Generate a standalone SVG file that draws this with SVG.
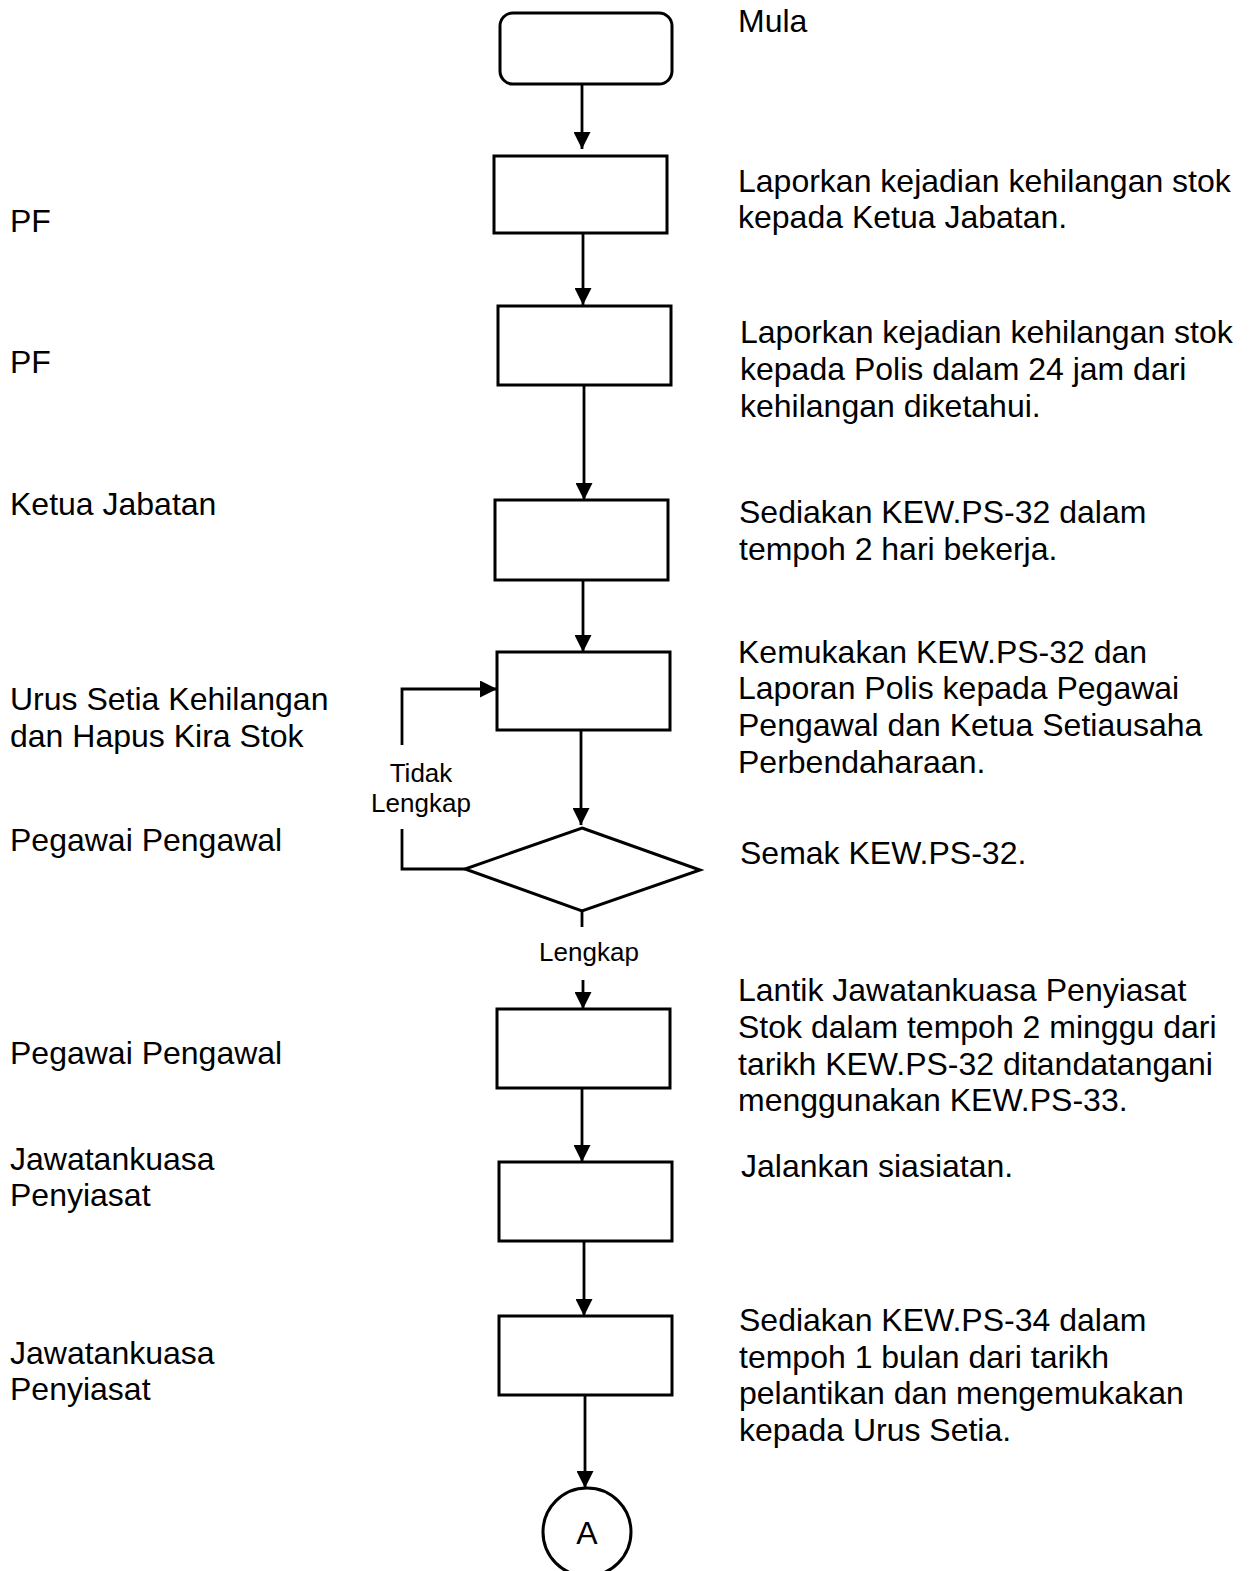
<svg xmlns="http://www.w3.org/2000/svg" width="1255" height="1571" viewBox="0 0 1255 1571">
  <style>
    .box { fill: #ffffff; stroke: #000000; stroke-width: 3; }
    .wire { fill: none; stroke: #000000; stroke-width: 2.8; }
    .txt { font-family: "Liberation Sans", Arial, sans-serif; font-size: 32px; fill: #000000; }
    .small { font-family: "Liberation Sans", Arial, sans-serif; font-size: 26px; fill: #000000; }
  </style>
  <defs>
    <marker id="arrow" markerUnits="userSpaceOnUse" markerWidth="17" markerHeight="17" viewBox="0 0 17 17" refX="17" refY="8.5" orient="auto">
      <path d="M0,0 L17,8.5 L0,17 z" fill="#000000"/>
    </marker>
  </defs>

  <rect width="1255" height="1571" fill="#ffffff"/>

  <!-- role labels, left column -->
  <g id="roles" class="txt">
    <text x="10" y="232">PF</text>
    <text x="10" y="373">PF</text>
    <text x="10" y="515">Ketua Jabatan</text>
    <text x="10" y="710">Urus Setia Kehilangan</text>
    <text x="10" y="747">dan Hapus Kira Stok</text>
    <text x="10" y="851">Pegawai Pengawal</text>
    <text x="10" y="1064">Pegawai Pengawal</text>
    <text x="10" y="1170">Jawatankuasa</text>
    <text x="10" y="1206">Penyiasat</text>
    <text x="10" y="1364">Jawatankuasa</text>
    <text x="10" y="1400">Penyiasat</text>
  </g>

  <!-- step descriptions, right column -->
  <g id="steps" class="txt">
    <text x="738" y="32">Mula</text>
    <text x="738" y="192">Laporkan kejadian kehilangan stok</text>
    <text x="738" y="228">kepada Ketua Jabatan.</text>
    <text x="740" y="343">Laporkan kejadian kehilangan stok</text>
    <text x="740" y="380">kepada Polis dalam 24 jam dari</text>
    <text x="740" y="417">kehilangan diketahui.</text>
    <text x="739" y="523">Sediakan KEW.PS-32 dalam</text>
    <text x="739" y="560">tempoh 2 hari bekerja.</text>
    <text x="738" y="663">Kemukakan KEW.PS-32 dan</text>
    <text x="738" y="699">Laporan Polis kepada Pegawai</text>
    <text x="738" y="736">Pengawal dan Ketua Setiausaha</text>
    <text x="738" y="773">Perbendaharaan.</text>
    <text x="740" y="864">Semak KEW.PS-32.</text>
    <text x="738" y="1001">Lantik Jawatankuasa Penyiasat</text>
    <text x="738" y="1038">Stok dalam tempoh 2 minggu dari</text>
    <text x="738" y="1075">tarikh KEW.PS-32 ditandatangani</text>
    <text x="738" y="1111">menggunakan KEW.PS-33.</text>
    <text x="741" y="1177">Jalankan siasiatan.</text>
    <text x="739" y="1331">Sediakan KEW.PS-34 dalam</text>
    <text x="739" y="1368">tempoh 1 bulan dari tarikh</text>
    <text x="739" y="1404">pelantikan dan mengemukakan</text>
    <text x="739" y="1441">kepada Urus Setia.</text>
  </g>

  <!-- flow nodes -->
  <g id="start"><rect class="box" x="500" y="13" width="172" height="71" rx="13" ry="13"/></g>
  <g id="step1"><rect class="box" x="494" y="156" width="173" height="77"/></g>
  <g id="step2"><rect class="box" x="498" y="306" width="173" height="79"/></g>
  <g id="step3"><rect class="box" x="495" y="500" width="173" height="80"/></g>
  <g id="step4"><rect class="box" x="497" y="652" width="173" height="78"/></g>
  <g id="check"><polygon class="box" points="582,828 700,870 582,911 465,869"/></g>
  <g id="step5"><rect class="box" x="497" y="1009" width="173" height="79"/></g>
  <g id="step6"><rect class="box" x="499" y="1162" width="173" height="79"/></g>
  <g id="step7"><rect class="box" x="499" y="1316" width="173" height="79"/></g>
  <g id="connectorA">
    <circle class="box" cx="587" cy="1532" r="44"/>
    <text class="txt" x="587" y="1544" text-anchor="middle">A</text>
  </g>

  <!-- connectors -->
  <g id="connectors">
    <path class="wire" d="M582,84 V149" marker-end="url(#arrow)"/>
    <path class="wire" d="M583,233 V305" marker-end="url(#arrow)"/>
    <path class="wire" d="M584,385 V500" marker-end="url(#arrow)"/>
    <path class="wire" d="M583,580 V652" marker-end="url(#arrow)"/>
    <path class="wire" d="M581,730 V825" marker-end="url(#arrow)"/>
    <path class="wire" d="M465,869 H402 V829"/>
    <path class="wire" d="M402,745 V689 H497" marker-end="url(#arrow)"/>
    <path class="wire" d="M582,911 V927"/>
    <path class="wire" d="M583,980 V1009" marker-end="url(#arrow)"/>
    <path class="wire" d="M582,1088 V1162" marker-end="url(#arrow)"/>
    <path class="wire" d="M584,1241 V1316" marker-end="url(#arrow)"/>
    <path class="wire" d="M585,1395 V1488" marker-end="url(#arrow)"/>
  </g>

  <!-- branch labels -->
  <g id="branch-labels" class="small">
    <text x="421" y="782" text-anchor="middle">Tidak</text>
    <text x="421" y="812" text-anchor="middle">Lengkap</text>
    <text x="589" y="961" text-anchor="middle">Lengkap</text>
  </g>
</svg>
